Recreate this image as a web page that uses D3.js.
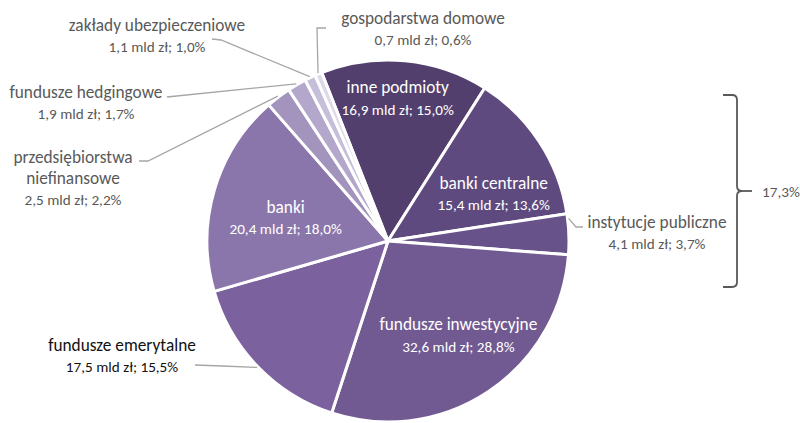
<!DOCTYPE html>
<html>
<head>
<meta charset="utf-8">
<script src="https://cdn.jsdelivr.net/npm/d3@7"></script>
<style>
  html, body { margin: 0; padding: 0; background: #fff; }
  svg { display: block; }
  text { font-family: Carlito, "Open Sans", Lato, sans-serif; }
</style>
</head>
<body>
<svg id="chart" width="800" height="423"></svg>
<script>
// Holders of the securities, clockwise from the dark "inne podmioty" slice
const categories = [
  "inne podmioty", "banki centralne", "instytucje publiczne", "fundusze inwestycyjne",
  "fundusze emerytalne", "banki", "przedsiębiorstwa niefinansowe",
  "fundusze hedgingowe", "zakłady ubezpieczeniowe", "gospodarstwa domowe"
];
const valuesBn = [16.9, 15.4, 4.1, 32.6, 17.5, 20.4, 2.5, 1.9, 1.1, 0.7];   // mld zł
const sharesPct = [15.0, 13.6, 3.7, 28.8, 15.5, 18.0, 2.2, 1.7, 1.0, 0.6]; // %
const colors = ["#523f6e", "#5e4a7f", "#67528a", "#715a92", "#7b619d",
                "#8b76ab", "#a294bd", "#b3a8cb", "#c6bfd9", "#ddd8ea"];
// Public-sector group marked by the brace on the right
const groupMembers = ["banki centralne", "instytucje publiczne"];
const groupLabel = "17,3%";

const fmt = v => v.toFixed(1).replace(".", ",");
const valueText = i => `${fmt(valuesBn[i])} mld zł; ${fmt(sharesPct[i])}%`;

const NAME_SIZE = 17.3, VALUE_SIZE = 15.2, LINE_GAP = 21.5;

const svg = d3.select("#chart");
const cx = 388, cy = 241, R = 181;
const startDeg = -21.5;
const rad = d => d * Math.PI / 180;

const pie = d3.pie().sort(null)
  .startAngle(rad(startDeg)).endAngle(rad(startDeg + 360))
  .value(i => valuesBn[i]);
const arcs = pie(d3.range(categories.length));
const arc = d3.arc().innerRadius(0).outerRadius(R);

const g = svg.append("g").attr("transform", `translate(${cx},${cy})`);
g.selectAll("path.slice").data(arcs).join("path")
  .attr("class", "slice")
  .attr("d", arc)
  .attr("fill", d => colors[d.data])
  .attr("stroke", "#fff").attr("stroke-width", 3).attr("stroke-linejoin", "round");

const polar = (a, r) => [r * Math.sin(a), -r * Math.cos(a)];

// Labels placed inside the large slices: [angle nudge in degrees, radius fraction]
const inside = {
  "inne podmioty": [-1.5, 0.79],
  "banki centralne": [9, 0.64],
  "banki": [-3.5, 0.58],
  "fundusze inwestycyjne": [-3, 0.65]
};
Object.entries(inside).forEach(([name, [nudge, k]]) => {
  const i = categories.indexOf(name);
  const a = arcs[i];
  const [x, y] = polar((a.startAngle + a.endAngle) / 2 + rad(nudge), R * k);
  const t = g.append("text").attr("text-anchor", "middle").attr("fill", "#fff");
  t.append("tspan").attr("x", x).attr("y", y - 5).attr("font-size", NAME_SIZE).text(name);
  t.append("tspan").attr("x", x).attr("y", y - 5 + LINE_GAP).attr("font-size", VALUE_SIZE).text(valueText(i));
});

// Labels outside the pie with leader lines
// x, y: text centre and first baseline; bends: leader points before it reaches the slice
const outside = [
  { name: "gospodarstwa domowe", lines: ["gospodarstwa domowe"], x: 423, y: 23.5, color: "#595959",
    bends: [[326, 28], [317, 28]], frac: 0.5 },
  { name: "zakłady ubezpieczeniowe", lines: ["zakłady ubezpieczeniowe"], x: 157, y: 30.5, color: "#595959",
    bends: [[212, 39], [221, 40]], frac: 0.5 },
  { name: "fundusze hedgingowe", lines: ["fundusze hedgingowe"], x: 86, y: 97.5, color: "#595959",
    bends: [[167, 97]], frac: 0.5 },
  { name: "przedsiębiorstwa niefinansowe", lines: ["przedsiębiorstwa", "niefinansowe"], x: 73, y: 162.5, color: "#595959",
    bends: [[139, 161], [148, 161]], frac: 0.5 },
  { name: "fundusze emerytalne", lines: ["fundusze emerytalne"], x: 122, y: 350.5, color: "#111",
    bends: [[195, 365], [222, 366]], frac: 0.5 },
  { name: "instytucje publiczne", lines: ["instytucje publiczne"], x: 657, y: 227.5, color: "#595959",
    bends: [[583, 227], [576, 227]], frac: 0.12 }
];
outside.forEach(o => {
  const i = categories.indexOf(o.name);
  const a = arcs[i];
  const [px, py] = polar(a.startAngle + (a.endAngle - a.startAngle) * o.frac, R + 1);
  const pts = o.bends.concat([[cx + px, cy + py]]);
  svg.append("path")
    .attr("d", d3.line()(pts))
    .attr("fill", "none").attr("stroke", "#a6a6a6").attr("stroke-width", 1.3);
  const t = svg.append("text").attr("text-anchor", "middle").attr("fill", o.color);
  o.lines.forEach((ln, k) => {
    t.append("tspan").attr("x", o.x).attr("y", o.y + k * 21).attr("font-size", NAME_SIZE).text(ln);
  });
  t.append("tspan").attr("x", o.x).attr("y", o.y + (o.lines.length - 1) * 21 + LINE_GAP)
    .attr("font-size", VALUE_SIZE).text(valueText(i));
});

// Brace spanning the public-sector slices
const braceTop = 95, braceBot = 287, braceX = 737, braceLeft = 723, braceMid = 191;
const bracePath = [
  `M${braceLeft},${braceTop}`,
  `L${braceX - 5},${braceTop}`,
  `Q${braceX},${braceTop} ${braceX},${braceTop + 5}`,
  `L${braceX},${braceMid - 5}`,
  `Q${braceX},${braceMid} ${braceX + 5},${braceMid}`,
  `Q${braceX},${braceMid} ${braceX},${braceMid + 5}`,
  `L${braceX},${braceBot - 5}`,
  `Q${braceX},${braceBot} ${braceX - 5},${braceBot}`,
  `L${braceLeft},${braceBot}`
].join(" ");
svg.append("path").attr("d", bracePath)
  .attr("fill", "none").attr("stroke", "#595959").attr("stroke-width", 1.8);
svg.append("line").attr("x1", braceX + 5).attr("x2", braceX + 15)
  .attr("y1", braceMid).attr("y2", braceMid)
  .attr("stroke", "#595959").attr("stroke-width", 1.8);
svg.append("text").attr("x", 762).attr("y", braceMid + 5.5).attr("font-size", VALUE_SIZE)
  .attr("fill", "#595959").text(groupLabel);
</script>
</body>
</html>
